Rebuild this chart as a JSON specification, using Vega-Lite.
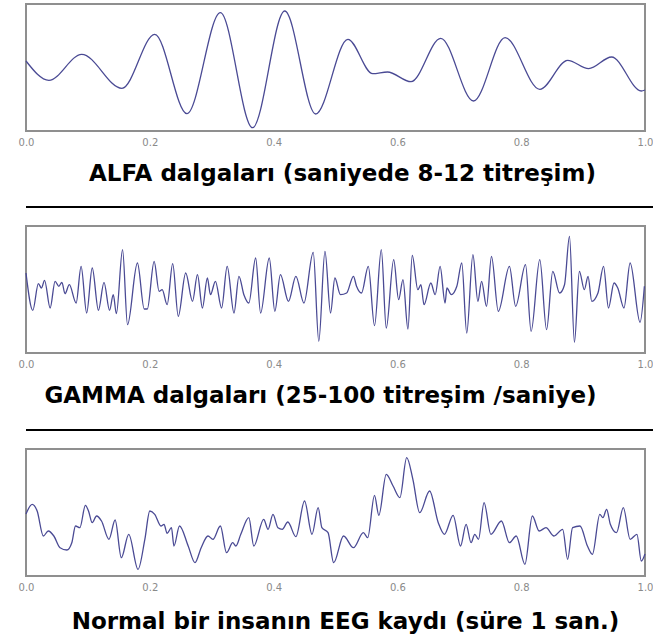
{
  "$schema": "https://vega.github.io/schema/vega-lite/v6.json",
  "background": "white",
  "padding": {"left": 17, "top": 3, "right": 0, "bottom": 0},
  "spacing": 17,
  "bounds": "full",
  "config": {
    "view": {"stroke": "#8f8f8f", "strokeWidth": 2},
    "axis": {"labelFont": "DejaVu Sans", "labelFontSize": 10, "labelColor": "#8a8a8a", "labelFlush": false, "domain": false, "grid": false, "ticks": false, "labelPadding": 6, "titleFont": "DejaVu Sans", "titleFontWeight": "bold", "titleFontSize": 23, "titleColor": "black", "titlePadding": 15},
    "line": {"color": "#4a4a94", "strokeWidth": 1.3, "interpolate": "monotone"}
  },
  "datasets": {
    "alpha": [
      {"t":0,"v":70},{"t":0.037,"v":50.7},{"t":0.090,"v":76.7},{"t":0.155,"v":42.7},{"t":0.208,"v":96.7},{"t":0.260,"v":17.3},{"t":0.314,"v":118.3},{"t":0.366,"v":3.3},{"t":0.418,"v":120},{"t":0.468,"v":17},{"t":0.520,"v":91.7},{"t":0.560,"v":57.3},{"t":0.584,"v":59},{"t":0.622,"v":49.3},{"t":0.670,"v":92.7},{"t":0.723,"v":30},{"t":0.774,"v":93.3},{"t":0.830,"v":41.7},{"t":0.875,"v":70.7},{"t":0.909,"v":62.3},{"t":0.946,"v":74},{"t":0.994,"v":40},{"t":1.0,"v":41}
    ],
    "gamma": [
      {"t":0,"v":80},{"t":0.011,"v":42.7},{"t":0.020,"v":69.3},{"t":0.025,"v":65},{"t":0.030,"v":72.7},{"t":0.039,"v":45},{"t":0.047,"v":71.7},{"t":0.053,"v":66.7},{"t":0.058,"v":70.7},{"t":0.063,"v":59.3},{"t":0.070,"v":68.3},{"t":0.081,"v":50},{"t":0.089,"v":86.7},{"t":0.098,"v":40},{"t":0.107,"v":85},{"t":0.117,"v":42.7},{"t":0.126,"v":70.7},{"t":0.135,"v":42.7},{"t":0.141,"v":58.3},{"t":0.146,"v":39.3},{"t":0.156,"v":103.3},{"t":0.164,"v":28.3},{"t":0.180,"v":90},{"t":0.191,"v":44},{"t":0.196,"v":44},{"t":0.207,"v":91.7},{"t":0.215,"v":61.7},{"t":0.220,"v":63.3},{"t":0.228,"v":48.3},{"t":0.237,"v":89.3},{"t":0.246,"v":36.7},{"t":0.258,"v":80},{"t":0.269,"v":51.7},{"t":0.277,"v":78.3},{"t":0.285,"v":45},{"t":0.293,"v":75},{"t":0.298,"v":58.3},{"t":0.306,"v":71.7},{"t":0.316,"v":45},{"t":0.325,"v":86.7},{"t":0.336,"v":40},
      {"t":0.344,"v":76.7},{"t":0.352,"v":58.3},{"t":0.360,"v":50},{"t":0.371,"v":95},{"t":0.379,"v":40},{"t":0.393,"v":95},{"t":0.402,"v":41.7},{"t":0.411,"v":78.3},{"t":0.424,"v":51.7},{"t":0.436,"v":76.7},{"t":0.449,"v":50},{"t":0.464,"v":100.7},{"t":0.473,"v":11.7},{"t":0.483,"v":101.7},{"t":0.492,"v":40},{"t":0.499,"v":75},{"t":0.508,"v":58.3},{"t":0.518,"v":60},{"t":0.529,"v":76.7},{"t":0.534,"v":66.7},{"t":0.542,"v":60},{"t":0.553,"v":86.7},{"t":0.563,"v":27.3},{"t":0.574,"v":103.3},{"t":0.582,"v":25},{"t":0.594,"v":93.3},{"t":0.602,"v":53.3},{"t":0.609,"v":73.3},{"t":0.617,"v":24},{"t":0.624,"v":97.7},{"t":0.633,"v":63.3},{"t":0.638,"v":68.3},{"t":0.643,"v":48.3},{"t":0.654,"v":70},{"t":0.661,"v":58.3},{"t":0.669,"v":86.7},{"t":0.677,"v":50},
      {"t":0.680,"v":65},{"t":0.687,"v":58.3},{"t":0.696,"v":66.7},{"t":0.704,"v":90},{"t":0.712,"v":20},{"t":0.722,"v":98.3},{"t":0.730,"v":51.7},{"t":0.736,"v":71.7},{"t":0.744,"v":46.7},{"t":0.752,"v":96.7},{"t":0.763,"v":41.7},{"t":0.781,"v":86.7},{"t":0.791,"v":46.7},{"t":0.807,"v":88.3},{"t":0.816,"v":21.7},{"t":0.830,"v":93.3},{"t":0.841,"v":23.3},{"t":0.851,"v":81.7},{"t":0.862,"v":60},{"t":0.870,"v":68.3},{"t":0.878,"v":116.7},{"t":0.886,"v":10.7},{"t":0.894,"v":81.7},{"t":0.902,"v":63.3},{"t":0.908,"v":76.7},{"t":0.914,"v":51.7},{"t":0.924,"v":60},{"t":0.933,"v":86.7},{"t":0.941,"v":45},{"t":0.950,"v":70},{"t":0.956,"v":65},{"t":0.966,"v":45},{"t":0.976,"v":90},{"t":0.992,"v":30.7},{"t":0.999,"v":66.7}
    ],
    "eeg": [
      {"t":0,"v":62},{"t":0.010,"v":71.7},{"t":0.018,"v":65},{"t":0.028,"v":40},{"t":0.036,"v":45},{"t":0.045,"v":40},{"t":0.055,"v":28.3},{"t":0.066,"v":26},{"t":0.074,"v":33.3},{"t":0.080,"v":50},{"t":0.087,"v":48.3},{"t":0.096,"v":70.7},{"t":0.101,"v":65},{"t":0.107,"v":53.3},{"t":0.114,"v":60},{"t":0.122,"v":55},{"t":0.134,"v":36.7},{"t":0.144,"v":56},{"t":0.154,"v":18.3},{"t":0.166,"v":41.7},{"t":0.181,"v":6.7},{"t":0.192,"v":36.7},{"t":0.200,"v":65},{"t":0.208,"v":61.7},{"t":0.218,"v":50},{"t":0.223,"v":51.7},{"t":0.228,"v":42.7},{"t":0.235,"v":48.3},{"t":0.239,"v":30},{"t":0.248,"v":50},{"t":0.262,"v":30},{"t":0.273,"v":13.3},{"t":0.283,"v":28.3},{"t":0.294,"v":40},{"t":0.302,"v":36.7},{"t":0.314,"v":50},{"t":0.324,"v":23.3},{"t":0.334,"v":33.3},
      {"t":0.339,"v":30},{"t":0.347,"v":41.7},{"t":0.360,"v":58.3},{"t":0.368,"v":30},{"t":0.384,"v":56.7},{"t":0.391,"v":46.7},{"t":0.399,"v":61.7},{"t":0.407,"v":48.3},{"t":0.414,"v":46.7},{"t":0.423,"v":54},{"t":0.436,"v":39.3},{"t":0.450,"v":75},{"t":0.462,"v":41.7},{"t":0.472,"v":68.3},{"t":0.478,"v":48.3},{"t":0.488,"v":43.3},{"t":0.497,"v":13.3},{"t":0.513,"v":40},{"t":0.529,"v":28.3},{"t":0.545,"v":43.3},{"t":0.552,"v":38.3},{"t":0.563,"v":80.7},{"t":0.570,"v":60.7},{"t":0.582,"v":101.7},{"t":0.593,"v":90},{"t":0.604,"v":78.3},{"t":0.615,"v":118.3},{"t":0.625,"v":96.7},{"t":0.636,"v":63.3},{"t":0.652,"v":85},{"t":0.666,"v":53.3},
      {"t":0.676,"v":41.7},{"t":0.690,"v":60.7},{"t":0.702,"v":30},{"t":0.711,"v":51.7},{"t":0.719,"v":33.3},{"t":0.725,"v":41.7},{"t":0.731,"v":36.7},{"t":0.740,"v":73.3},{"t":0.751,"v":41.7},{"t":0.768,"v":55},{"t":0.781,"v":33.3},{"t":0.792,"v":40},{"t":0.806,"v":11.7},{"t":0.818,"v":60},{"t":0.829,"v":45},{"t":0.840,"v":48.3},{"t":0.853,"v":40},{"t":0.867,"v":46.7},{"t":0.875,"v":16.7},{"t":0.883,"v":48.3},{"t":0.895,"v":50},{"t":0.907,"v":30},{"t":0.915,"v":21.7},{"t":0.927,"v":61.7},{"t":0.932,"v":58.3},{"t":0.938,"v":66.7},{"t":0.944,"v":51.7},{"t":0.954,"v":43.3},{"t":0.965,"v":68.3},{"t":0.976,"v":36.7},{"t":0.987,"v":41.7},{"t":0.994,"v":15},{"t":1.0,"v":22}
    ]
  },
  "vconcat": [
    {
      "width": 619, "height": 127,
      "data": {"name": "alpha"},
      "mark": "line",
      "encoding": {
        "x": {"field": "t", "type": "quantitative", "scale": {"domain": [0, 1]}, "axis": {"values": [0, 0.2, 0.4, 0.6, 0.8, 1], "format": ".1f", "title": "ALFA dalgaları (saniyede 8-12 titreşim)", "titleX": 316}},
        "y": {"field": "v", "type": "quantitative", "scale": {"domain": [0, 127], "nice": false, "zero": false}, "axis": null}
      }
    },
    {
      "width": 631, "height": 4,
      "view": {"stroke": null},
      "data": {"values": [{}]},
      "mark": {"type": "rule", "color": "black", "strokeWidth": 2},
      "encoding": {"y": {"datum": 0, "type": "quantitative", "scale": {"domain": [0, 1]}, "axis": null}}
    },
    {
      "width": 619, "height": 127,
      "data": {"name": "gamma"},
      "mark": "line",
      "encoding": {
        "x": {"field": "t", "type": "quantitative", "scale": {"domain": [0, 1]}, "axis": {"values": [0, 0.2, 0.4, 0.6, 0.8, 1], "format": ".1f", "title": "GAMMA dalgaları  (25-100 titreşim /saniye)", "titleX": 294}},
        "y": {"field": "v", "type": "quantitative", "scale": {"domain": [0, 127], "nice": false, "zero": false}, "axis": null}
      }
    },
    {
      "width": 631, "height": 5,
      "view": {"stroke": null},
      "data": {"values": [{}]},
      "mark": {"type": "rule", "color": "black", "strokeWidth": 2},
      "encoding": {"y": {"datum": 0, "type": "quantitative", "scale": {"domain": [0, 1]}, "axis": null}}
    },
    {
      "width": 619, "height": 127,
      "data": {"name": "eeg"},
      "mark": "line",
      "encoding": {
        "x": {"field": "t", "type": "quantitative", "scale": {"domain": [0, 1]}, "axis": {"values": [0, 0.2, 0.4, 0.6, 0.8, 1], "format": ".1f", "title": "Normal bir insanın EEG kaydı (süre 1 san.)", "titleX": 319, "titlePadding": 18}},
        "y": {"field": "v", "type": "quantitative", "scale": {"domain": [0, 127], "nice": false, "zero": false}, "axis": null}
      }
    }
  ]
}
